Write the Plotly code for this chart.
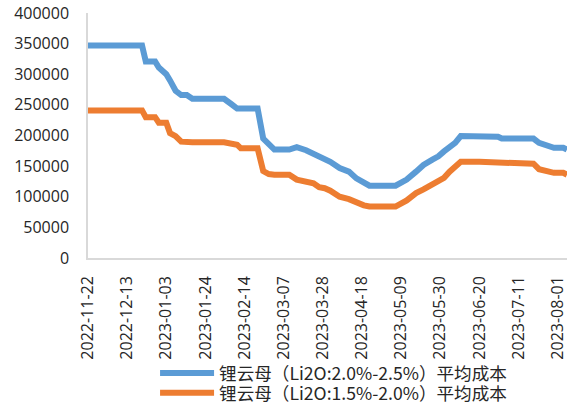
import plotly.graph_objects as go

dates = [
    "2022-11-22", "2022-12-21", "2022-12-23", "2022-12-28", "2022-12-30",
    "2023-01-02", "2023-01-03", "2023-01-05", "2023-01-08", "2023-01-11",
    "2023-01-14", "2023-01-17", "2023-02-03", "2023-02-07", "2023-02-10",
    "2023-02-12", "2023-02-21", "2023-02-24", "2023-02-27", "2023-03-02",
    "2023-03-10", "2023-03-14", "2023-03-19", "2023-03-23", "2023-03-26",
    "2023-03-29", "2023-04-01", "2023-04-06", "2023-04-11", "2023-04-15",
    "2023-04-19", "2023-04-22", "2023-05-06", "2023-05-12", "2023-05-17",
    "2023-05-21", "2023-05-26", "2023-05-29", "2023-06-01", "2023-06-04",
    "2023-06-07", "2023-06-10", "2023-06-20", "2023-06-30", "2023-07-02",
    "2023-07-19", "2023-07-22", "2023-07-28", "2023-07-30", "2023-08-04",
    "2023-08-06",
]

blue_cost = [
    347000, 347000, 321000, 321000, 311000,
    303000, 300000, 290000, 273000, 266000,
    266000, 260000, 260000, 251000, 244000,
    244000, 244000, 195000, 185000, 177000,
    177000, 181000, 176000, 170000, 165000,
    163000, 157000, 147000, 141000, 130000,
    124000, 118000, 118000, 128000, 141000,
    152000, 161000, 166000, 174000, 180000,
    188000, 199000, 199000, 198000, 195000,
    195000, 188000, 182000, 180000, 180000,
    177000,
]

orange_cost = [
    241000, 241000, 230000, 230000, 221000,
    221000, 221000, 204000, 199000, 190000,
    189000, 189000, 189000, 187000, 185000,
    179000, 179000, 142000, 137000, 136000,
    136000, 128000, 125000, 122000, 115500,
    114000, 110000, 100000, 96000, 90000,
    86000, 84000, 84000, 94000, 106000,
    112000, 121000, 126000, 131000, 141000,
    149000, 157000, 157000, 156000, 154000,
    154000, 145000, 140000, 139000, 139000,
    136000,
]

series_names = [
    "锂云母（Li2O:2.0%-2.5%）平均成本",
    "锂云母（Li2O:1.5%-2.0%）平均成本",
]

tick_dates = [
    "2022-11-22", "2022-12-13", "2023-01-03", "2023-01-24", "2023-02-14",
    "2023-03-07", "2023-03-28", "2023-04-18", "2023-05-09", "2023-05-30",
    "2023-06-20", "2023-07-11", "2023-08-01",
]

y_ticks = [0, 50000, 100000, 150000, 200000, 250000, 300000, 350000, 400000]

fig = go.Figure()
fig.add_trace(go.Scatter(x=dates, y=blue_cost, mode="lines", name=series_names[0],
                         line=dict(color="#5B9BD5", width=6), legend="legend"))
fig.add_trace(go.Scatter(x=dates, y=orange_cost, mode="lines", name=series_names[1],
                         line=dict(color="#ED7D31", width=6), legend="legend2"))

font_family = "Open Sans, Noto Sans CJK SC, sans-serif"
legend_font = dict(family="Noto Sans CJK SC, sans-serif", size=17.6, color="#262626")

fig.update_layout(
    width=581, height=404,
    margin=dict(l=88, r=14, t=13, b=146, autoexpand=False),
    paper_bgcolor="white", plot_bgcolor="white",
    font=dict(family=font_family, size=16, color="#262626"),
    showlegend=True,
    legend=dict(
        x=0.14, y=-0.47, xanchor="left", yanchor="middle",
        font=legend_font, itemwidth=54, bgcolor="rgba(0,0,0,0)",
    ),
    legend2=dict(
        x=0.14, y=-0.55, xanchor="left", yanchor="middle",
        font=legend_font, itemwidth=54, bgcolor="rgba(0,0,0,0)",
    ),
    xaxis=dict(
        type="date",
        range=[dates[0], dates[-1]],
        tickmode="array", tickvals=tick_dates, ticktext=tick_dates,
        tickangle=-90, showgrid=False, zeroline=False,
        showline=True, linecolor="#D9D9D9", linewidth=1.5,
        ticks="", ticklabelstandoff=10, automargin=False,
        tickfont=dict(size=16),
    ),
    yaxis=dict(
        range=[0, 400000], tickvals=y_ticks, ticktext=[str(v) for v in y_ticks],
        showgrid=False, zeroline=False,
        showline=True, linecolor="#D9D9D9", linewidth=1.5,
        ticks="", ticklabelstandoff=14, automargin=False,
        tickfont=dict(size=16),
    ),
)

fig.write_html("out.html", config={"displayModeBar": False},
               post_script="document.body.style.margin='0';")
